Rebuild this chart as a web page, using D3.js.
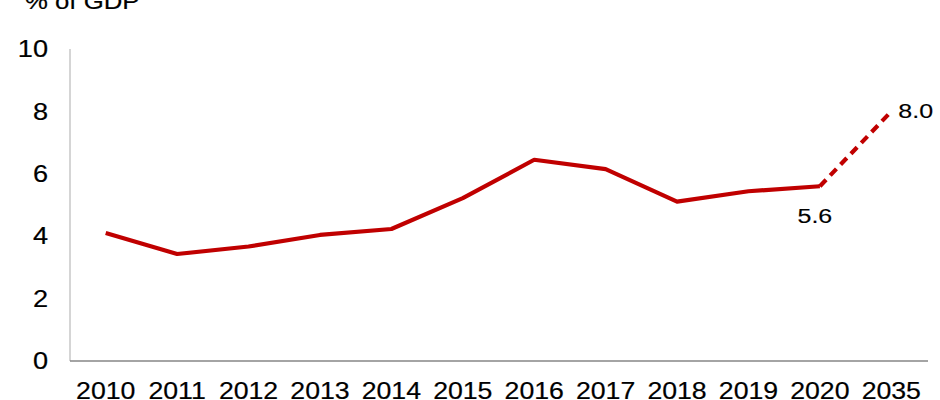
<!DOCTYPE html>
<html><head><meta charset="utf-8">
<script src="https://cdn.jsdelivr.net/npm/d3@7"></script>
<style>body{margin:0;background:#fff}svg{display:block;font-family:"Liberation Sans",Arial,sans-serif}</style>
</head><body>
<svg id="c" width="940" height="400"></svg>
<script>
const categories = ["2010","2011","2012","2013","2014","2015","2016","2017","2018","2019","2020","2035"];
const values = [4.1, 3.43, 3.67, 4.04, 4.23, 5.22, 6.45, 6.15, 5.11, 5.44, 5.6, 8.0];
const yTicks = [0, 2, 4, 6, 8, 10];
const yLabel = "% of GDP";
const solidCount = 11; // 2010-2020 solid, 2020->2035 dashed

const svg = d3.select("#c");
const x = d3.scaleBand().domain(categories).range([70, 927]);
const y = d3.scaleLinear().domain([0, 10]).range([361, 49]);
const cx = d => x(d) + x.bandwidth() / 2;
const red = "#c00000";

function stretchedText(sel, fx, fy, sx) {
  return sel.attr("transform", (d, i) => `translate(${fx(d, i)},${fy(d, i)}) scale(${sx},1)`);
}

// axes
svg.append("line").attr("x1", 70).attr("x2", 70).attr("y1", y(10)).attr("y2", y(0))
  .attr("stroke", "#bfbfbf").attr("stroke-width", 1.3);
svg.append("line").attr("x1", 70).attr("x2", 928).attr("y1", y(0)).attr("y2", y(0))
  .attr("stroke", "#868686").attr("stroke-width", 1.3);

stretchedText(svg.selectAll(".yt").data(yTicks).join("text"), () => 48, d => y(d), 1.18)
  .attr("dy", "0.36em").attr("text-anchor", "end").attr("font-size", 23)
  .attr("fill", "#000").attr("stroke", "#000").attr("stroke-width", 0.2).text(d => d);

stretchedText(svg.selectAll(".xt").data(categories).join("text"), d => cx(d), () => 399, 1.16)
  .attr("text-anchor", "middle").attr("font-size", 23)
  .attr("fill", "#000").attr("stroke", "#000").attr("stroke-width", 0.2).text(d => d);

stretchedText(svg.append("text").datum(yLabel), () => 25, () => 9, 1.12)
  .attr("font-size", 23).attr("fill", "#000").attr("stroke", "#000").attr("stroke-width", 0.2).text(yLabel);

const pts = categories.map((c, i) => ({c, v: values[i]}));
const line = d3.line().x(d => cx(d.c)).y(d => y(d.v));
svg.append("path").datum(pts.slice(0, solidCount)).attr("d", line)
  .attr("fill", "none").attr("stroke", red).attr("stroke-width", 4.2).attr("stroke-linejoin", "round");
svg.append("path").datum(pts.slice(solidCount - 1)).attr("d", line)
  .attr("fill", "none").attr("stroke", red).attr("stroke-width", 4.2).attr("stroke-dasharray", "9,6");

// data labels
const p20 = pts[10], p35 = pts[11];
stretchedText(svg.append("text").datum(p20), d => cx(d.c) - 5, d => y(d.v) + 37, 1.25)
  .attr("text-anchor", "middle").attr("font-size", 20)
  .attr("fill", "#000").attr("stroke", "#000").attr("stroke-width", 0.15).text(d => d.v.toFixed(1));
stretchedText(svg.append("text").datum(p35), d => cx(d.c) + 7, d => y(d.v) + 7, 1.25)
  .attr("text-anchor", "start").attr("font-size", 20)
  .attr("fill", "#000").attr("stroke", "#000").attr("stroke-width", 0.15).text(d => d.v.toFixed(1));
</script>
</body></html>
